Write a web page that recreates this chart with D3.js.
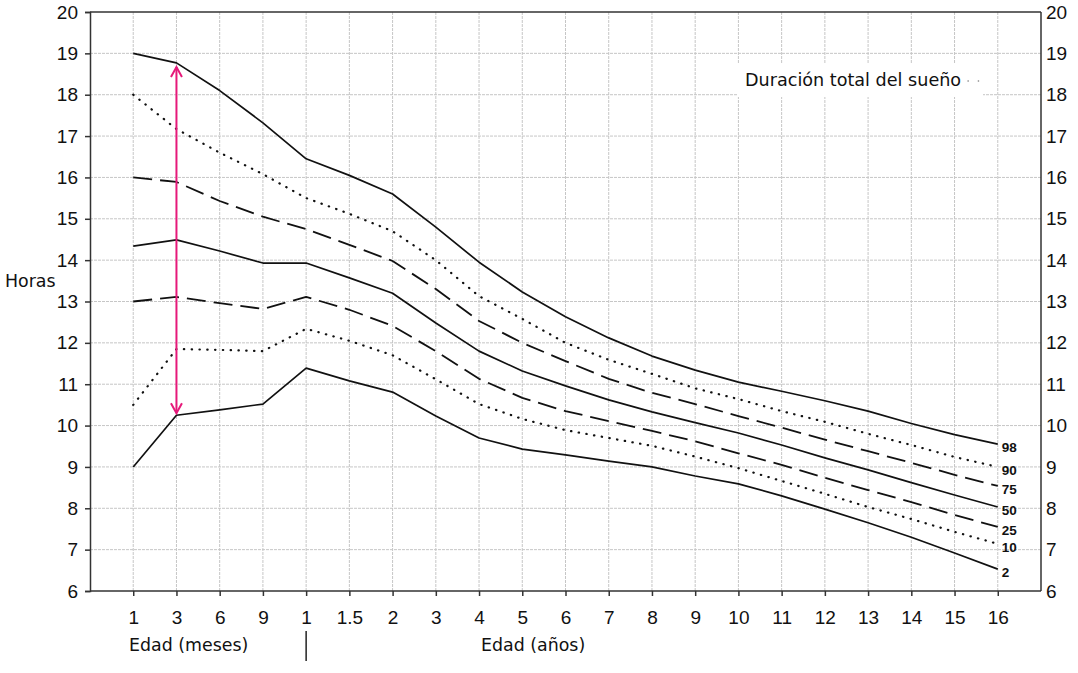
<!DOCTYPE html>
<html><head><meta charset="utf-8">
<script src="https://cdn.jsdelivr.net/npm/d3@7"></script>
<style>html,body{margin:0;padding:0;background:#fff;}svg{display:block;}</style>
</head><body>
<svg id="c" width="1078" height="673"></svg>
<script>
const xLabels = ["1","3","6","9","1","1.5","2","3","4","5","6","7","8","9","10","11","12","13","14","15","16"];
const yTicks = [6,7,8,9,10,11,12,13,14,15,16,17,18,19,20];
const p98 = [19.0,18.77,18.1,17.32,16.45,16.05,15.6,14.8,13.95,13.23,12.63,12.12,11.68,11.34,11.05,10.83,10.6,10.35,10.05,9.78,9.55];
const p90 = [18.0,17.17,16.6,16.08,15.5,15.12,14.7,14.0,13.13,12.58,12.0,11.59,11.25,10.9,10.64,10.35,10.09,9.8,9.53,9.24,9.0];
const p75 = [16.0,15.89,15.43,15.05,14.75,14.37,13.98,13.3,12.53,12.0,11.56,11.13,10.79,10.52,10.23,9.95,9.66,9.38,9.1,8.81,8.54];
const p50 = [14.34,14.49,14.22,13.93,13.93,13.57,13.2,12.48,11.8,11.32,10.96,10.62,10.33,10.07,9.82,9.53,9.22,8.93,8.62,8.32,8.03];
const p25 = [13.0,13.11,12.96,12.82,13.11,12.8,12.41,11.8,11.13,10.67,10.35,10.11,9.87,9.62,9.33,9.05,8.74,8.44,8.15,7.84,7.55];
const p10 = [10.5,11.85,11.83,11.8,12.34,12.05,11.7,11.12,10.52,10.16,9.89,9.7,9.51,9.25,8.97,8.66,8.35,8.03,7.74,7.43,7.14];
const p2  = [9.0,10.25,10.38,10.52,11.39,11.08,10.81,10.23,9.7,9.43,9.29,9.14,9.0,8.78,8.59,8.3,7.98,7.65,7.3,6.92,6.53];
const seriesNames = ["98","90","75","50","25","10","2"];
const seriesData = [p98,p90,p75,p50,p25,p10,p2];
const seriesStyle = ["solid","dot","dash","solid","dash","dot","solid"];
const arrowIndex = 1;          // "3" meses
const arrowRange = [10.3, 18.67];

const svg = d3.select("#c");
const L = 90, R = 1041, T = 12, B = 591;
const x = d3.scaleLinear().domain([0, xLabels.length + 1]).range([L, R]);
const y = d3.scaleLinear().domain([6, 20]).range([B, T]);

// grid
const grid = svg.append("g").attr("stroke", "#c6c6c6").attr("stroke-width", 1).attr("stroke-dasharray", "3,1");
d3.range(1, xLabels.length + 1).forEach(i => {
  grid.append("line").attr("x1", x(i)).attr("x2", x(i)).attr("y1", T).attr("y2", B);
});
yTicks.filter(v => v > 6 && v < 20).forEach(v => {
  grid.append("line").attr("x1", L).attr("x2", R).attr("y1", y(v)).attr("y2", y(v));
});

// legend box (white) with title
svg.append("rect").attr("x", 737).attr("y", 64).attr("width", 246).attr("height", 33).attr("fill", "#fff");
svg.append("text").attr("x", 745).attr("y", 86).attr("font-family", "DejaVu Sans").attr("font-size", 17.6)
  .attr("fill", "#111").text("Duración total del sueño");
svg.append("line").attr("x1", 968).attr("x2", 980).attr("y1", 81).attr("y2", 81)
  .attr("stroke", "#888").attr("stroke-width", 1.4).attr("stroke-linecap", "round").attr("stroke-dasharray", "0.3,10");

// frame
const frame = svg.append("g").attr("stroke", "#333").attr("stroke-width", 1.5).attr("fill", "none");
frame.append("line").attr("x1", L).attr("x2", R).attr("y1", T).attr("y2", T);
frame.append("line").attr("x1", R).attr("x2", R).attr("y1", T).attr("y2", B);

// left axis
const yAxisL = d3.axisLeft(y).tickValues(yTicks).tickSize(5).tickPadding(7).tickFormat(d3.format("d"));
const gL = svg.append("g").attr("transform", `translate(${L},0)`).call(yAxisL);
gL.selectAll("text").attr("font-family", "Liberation Sans, Arial").attr("font-size", 19).attr("fill", "#111");
gL.selectAll("line,path").attr("stroke", "#333").attr("stroke-width", 1.5);

// right axis labels
const yAxisR = d3.axisRight(y).tickValues(yTicks).tickSize(0).tickPadding(5).tickFormat(d3.format("d"));
const gR = svg.append("g").attr("transform", `translate(${R},0)`).call(yAxisR);
gR.select(".domain").remove();
gR.selectAll("text").attr("font-family", "Liberation Sans, Arial").attr("font-size", 19).attr("fill", "#111");

// bottom axis
const xAxis = d3.axisBottom(x).tickValues(d3.range(1, xLabels.length + 1)).tickSize(5).tickPadding(15)
  .tickFormat(i => xLabels[i - 1]);
const gB = svg.append("g").attr("transform", `translate(0,${B})`).call(xAxis);
gB.select(".domain").attr("d", `M${L},0H${R}`);
gB.selectAll("text").attr("font-family", "Liberation Sans, Arial").attr("font-size", 19).attr("fill", "#111");
gB.selectAll("line,path").attr("stroke", "#333").attr("stroke-width", 1.5);

// axis titles
const lbl = (t, xx, yy, anchor) => svg.append("text").attr("x", xx).attr("y", yy).attr("text-anchor", anchor || "start")
  .attr("font-family", "DejaVu Sans").attr("font-size", 17.4).attr("fill", "#111").text(t);
lbl("Horas", 5, 287);
lbl("Edad (meses)", 129, 651);
lbl("Edad (años)", 481, 651);
svg.append("line").attr("x1", x(5)).attr("x2", x(5)).attr("y1", 631).attr("y2", 661)
  .attr("stroke", "#222").attr("stroke-width", 1.5);

// series
const line = d3.line().x((d, i) => x(i + 1)).y(d => y(d));
seriesData.forEach((s, k) => {
  const st = seriesStyle[k];
  const p = svg.append("path").datum(s).attr("d", line).attr("fill", "none").attr("stroke", "#111")
    .attr("stroke-linejoin", "round");
  if (st === "solid") p.attr("stroke-width", 1.7);
  if (st === "dash") p.attr("stroke-width", 1.8).attr("stroke-dasharray", "19,8");
  if (st === "dot") p.attr("stroke-width", 2.2).attr("stroke-linecap", "round").attr("stroke-dasharray", "0.4,7.4");
  const last = s[s.length - 1];
  svg.append("text").attr("x", x(s.length) + 4).attr("y", y(last) + 3).attr("dy", "0.35em")
    .attr("font-family", "Liberation Sans, Arial").attr("font-weight", "bold").attr("font-size", 13.5)
    .attr("fill", "#111").text(seriesNames[k]);
});

// pink double arrow
const ax = x(arrowIndex + 1);
const yTop = y(arrowRange[1]), yBot = y(arrowRange[0]);
const pink = "#e6197a";
svg.append("line").attr("x1", ax).attr("x2", ax).attr("y1", yTop).attr("y2", yBot)
  .attr("stroke", pink).attr("stroke-width", 2);
svg.append("path").attr("d", `M${ax-5.5},${yTop+10}L${ax},${yTop}L${ax+5.5},${yTop+10}`)
  .attr("fill", "none").attr("stroke", pink).attr("stroke-width", 2);
svg.append("path").attr("d", `M${ax-5.5},${yBot-10}L${ax},${yBot}L${ax+5.5},${yBot-10}`)
  .attr("fill", "none").attr("stroke", pink).attr("stroke-width", 2);
</script>
</body></html>
